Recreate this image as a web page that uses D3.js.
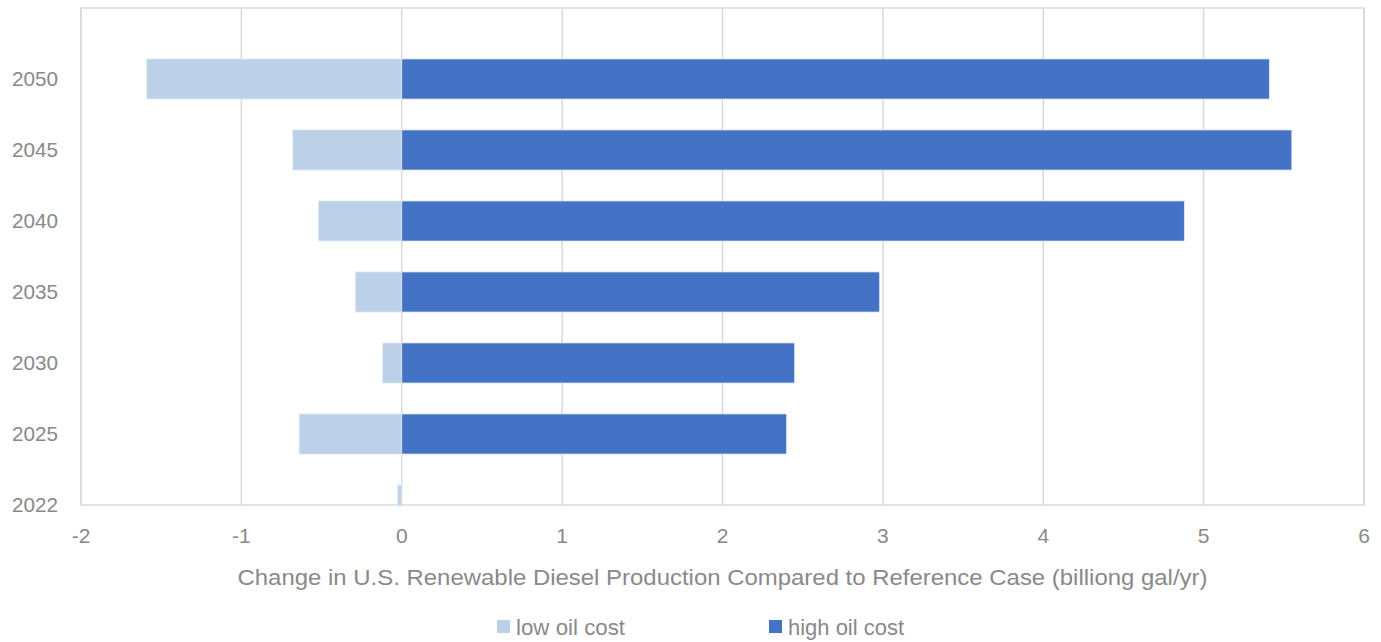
<!DOCTYPE html>
<html>
<head>
<meta charset="utf-8">
<script src="https://cdn.jsdelivr.net/npm/d3@7"></script>
<style>
  body { margin: 0; background: #fff; }
  text { font-family: "Liberation Sans", "DejaVu Sans", sans-serif; fill: #898989; }
</style>
</head>
<body>
<svg id="chart" width="1381" height="642"></svg>
<script>
const years = ["2022", "2025", "2030", "2035", "2040", "2045", "2050"];
const lowOil = [-0.025, -0.64, -0.12, -0.29, -0.52, -0.68, -1.59];
const highOil = [0, 2.40, 2.45, 2.98, 4.88, 5.55, 5.41];
const xTicks = [-2, -1, 0, 1, 2, 3, 4, 5, 6];
const seriesNames = ["low oil cost", "high oil cost"];
const colors = ["#bcd1e8", "#4472c4"];
const axisTitle = "Change in U.S. Renewable Diesel Production Compared to Reference Case (billiong gal/yr)";

const svg = d3.select("#chart");
const margin = { top: 8, right: 17, bottom: 137, left: 81 };
const width = +svg.attr("width") - margin.left - margin.right;
const height = +svg.attr("height") - margin.top - margin.bottom;

const g = svg.append("g").attr("transform", "translate(" + margin.left + "," + margin.top + ")");

const x = d3.scaleLinear()
    .domain([-2, 6])
    .range([0, width]);

// 2022 sits right on the bottom edge, so steps run from there upwards
const step = height / years.length;
const y = d3.scalePoint()
    .domain(years)
    .range([height, step]);
const barH = step * 0.565;

svg.append("defs").append("clipPath").attr("id", "plotclip")
    .append("rect").attr("width", width).attr("height", height);

// gridlines
g.selectAll(".grid")
    .data(xTicks)
    .enter().append("line")
    .attr("x1", d => x(d)).attr("x2", d => x(d))
    .attr("y1", 0).attr("y2", height)
    .attr("stroke", "#d9d9d9")
    .attr("stroke-width", 1.5);

g.append("rect")
    .attr("width", width).attr("height", height)
    .attr("fill", "none")
    .attr("stroke", "#d9d9d9")
    .attr("stroke-width", 1.5);

const bars = g.append("g").attr("clip-path", "url(#plotclip)");

const series = [lowOil, highOil];
series.forEach((vals, i) => {
    bars.selectAll(".s" + i)
        .data(years.map((yr, j) => ({ year: yr, value: vals[j] })))
        .enter().append("rect")
        .attr("class", "s" + i)
        .attr("x", d => x(Math.min(0, d.value)))
        .attr("width", d => Math.abs(x(d.value) - x(0)))
        .attr("y", d => y(d.year) - barH / 2)
        .attr("height", barH)
        .attr("fill", colors[i])
        .attr("stroke", "#e4ecf6")
        .attr("stroke-width", 0.8);
});

// y labels
g.selectAll(".ylab")
    .data(years)
    .enter().append("text")
    .attr("x", -23)
    .attr("y", d => y(d))
    .attr("dy", "0.35em")
    .attr("text-anchor", "end")
    .attr("font-size", 21)
    .attr("textLength", 46)
    .attr("lengthAdjust", "spacingAndGlyphs")
    .text(d => d);

// x labels
g.selectAll(".xlab")
    .data(xTicks)
    .enter().append("text")
    .attr("x", d => x(d))
    .attr("y", height + 31)
    .attr("dy", "0.35em")
    .attr("text-anchor", "middle")
    .attr("font-size", 21)
    .text(d => d);

g.append("text")
    .attr("x", x(2))
    .attr("y", height + 72)
    .attr("dy", "0.35em")
    .attr("text-anchor", "middle")
    .attr("font-size", 22)
    .attr("textLength", 970)
    .attr("lengthAdjust", "spacingAndGlyphs")
    .text(axisTitle);

// legend
const legend = svg.append("g").attr("transform", "translate(497,627)");
const legendX = [0, 272];
const legendLen = [109, 116];
seriesNames.forEach((name, i) => {
    const lg = legend.append("g").attr("transform", "translate(" + legendX[i] + ",0)");
    lg.append("rect")
        .attr("x", 0).attr("y", -7)
        .attr("width", 13).attr("height", 13)
        .attr("fill", colors[i]);
    lg.append("text")
        .attr("x", 19)
        .attr("y", 0)
        .attr("dy", "0.35em")
        .attr("font-size", 22)
        .attr("textLength", legendLen[i])
        .attr("lengthAdjust", "spacingAndGlyphs")
        .text(name);
});
</script>
</body>
</html>
